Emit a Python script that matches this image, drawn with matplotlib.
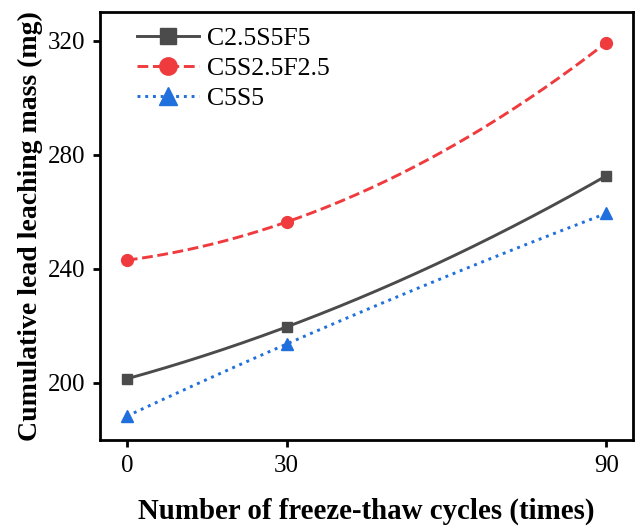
import matplotlib.pyplot as plt
import numpy as np

plt.rcParams['font.family'] = ['Liberation Serif', 'DejaVu Serif']

# data
cycles = [0, 30, 90]
c25s5f5 = [201.4, 219.6, 272.6]
c5s25f25 = [243.0, 256.4, 319.3]
c5s5 = [188.3, 213.6, 259.4]

series = [
    ('C2.5S5F5', c25s5f5, '#4b4b4b', '-', 's', 7.5, 12),
    ('C5S2.5F2.5', c5s25f25, '#ef3b3e', '--', 'o', 8.5, 12.5),
    ('C5S5', c5s5, '#1f6fdc', ':', '^', 9, 13.5),
]

fig = plt.figure(figsize=(6.38, 5.28), dpi=100)
ax = fig.add_axes([0.157, 0.167, 0.835, 0.810])

for name, y, col, ls, mk, ms, lms in series:
    # smooth curve through the three points (quadratic)
    coef = np.polyfit(cycles, y, 2)
    xs = np.linspace(cycles[0], cycles[-1], 200)
    ax.plot(xs, np.polyval(coef, xs), color=col, linestyle=ls, linewidth=2.1)
    ax.plot(cycles, y, color=col, linestyle='none', marker=mk, markersize=ms)
    # legend proxy
    ax.plot([], [], color=col, linestyle=ls, linewidth=2.1, marker=mk,
            markersize=lms, label=name)

# limits
ax.set_xlim(-5, 95)
ax.set_ylim(180, 330)
ax.set_xticks(cycles)
ax.set_yticks([200, 240, 280, 320])

# text
ax.set_xlabel('Number of freeze-thaw cycles (times)', fontsize=20.8,
              fontweight='bold', labelpad=15)
ax.set_ylabel('Cumulative lead leaching mass (mg)', fontsize=20,
              fontweight='bold', labelpad=3)
ax.tick_params(labelsize=18, width=2, length=5, direction='out', pad=6)
for s in ax.spines.values():
    s.set_linewidth(2)

ax.legend(loc='upper left', frameon=False, fontsize=18.5, handlelength=2.4,
          handletextpad=0.3, labelspacing=0.28, borderaxespad=0.0,
          borderpad=0.0, bbox_to_anchor=(0.07, 0.965))

fig.savefig('out.png', dpi=100)
